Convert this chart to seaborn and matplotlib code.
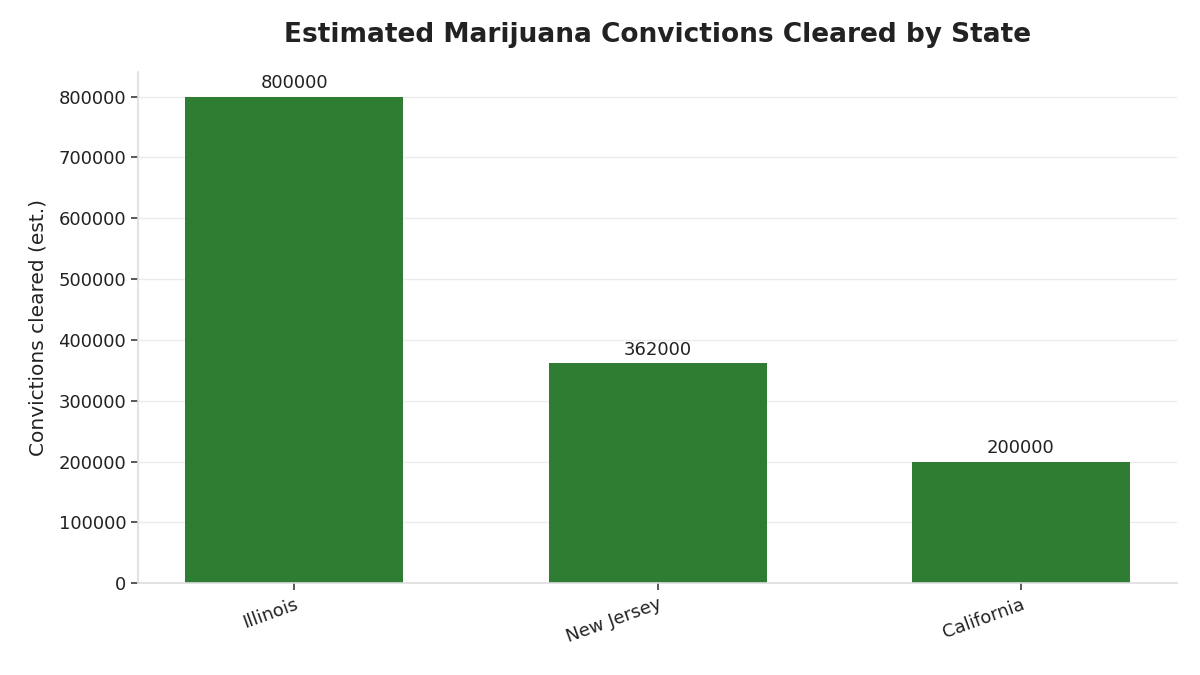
import matplotlib
matplotlib.use("Agg")
import matplotlib.pyplot as plt
import seaborn as sns
import pandas as pd

states = ["Illinois", "New Jersey", "California"]
convictions = [800000, 362000, 200000]

df = pd.DataFrame({"State": states, "Convictions": convictions})

sns.set_theme(style="whitegrid")
plt.rcParams['font.family'] = ['DejaVu Sans']

fig, ax = plt.subplots(figsize=(12, 6.75), dpi=100)
sns.barplot(data=df, x="State", y="Convictions", color="#2e7d32", width=0.6,
            saturation=1, linewidth=0, ax=ax)

for p, v in zip(ax.patches, convictions):
    ax.annotate(f"{v}", (p.get_x() + p.get_width() / 2, p.get_height()),
                xytext=(0, 3), textcoords="offset points",
                ha="center", va="bottom", fontsize=13, color="#222222")

ax.set_title("Estimated Marijuana Convictions Cleared by State",
             fontsize=19, fontweight="bold", color="#222222", pad=22)
ax.set_xlabel("")
ax.set_ylabel("Convictions cleared (est.)", fontsize=14.5, color="#222222",
              labelpad=8)
ax.set_ylim(0, 840000)
ax.set_xlim(-0.43, 2.43)
ax.grid(axis="x", visible=False)
ax.grid(axis="y", color="#ebebeb", linewidth=1)
ax.set_axisbelow(True)
for s in ["top", "right"]:
    ax.spines[s].set_visible(False)
for s in ["left", "bottom"]:
    ax.spines[s].set_color("#dddddd")
    ax.spines[s].set_linewidth(1.2)
ax.tick_params(axis="both", which="both", length=5, color="#444444",
               labelsize=13, labelcolor="#222222", left=True, bottom=True)
plt.setp(ax.get_xticklabels(), rotation=20, ha="right", rotation_mode="anchor")

fig.subplots_adjust(left=0.115, right=0.981, top=0.893, bottom=0.136)
fig.savefig("out.png", dpi=100)
